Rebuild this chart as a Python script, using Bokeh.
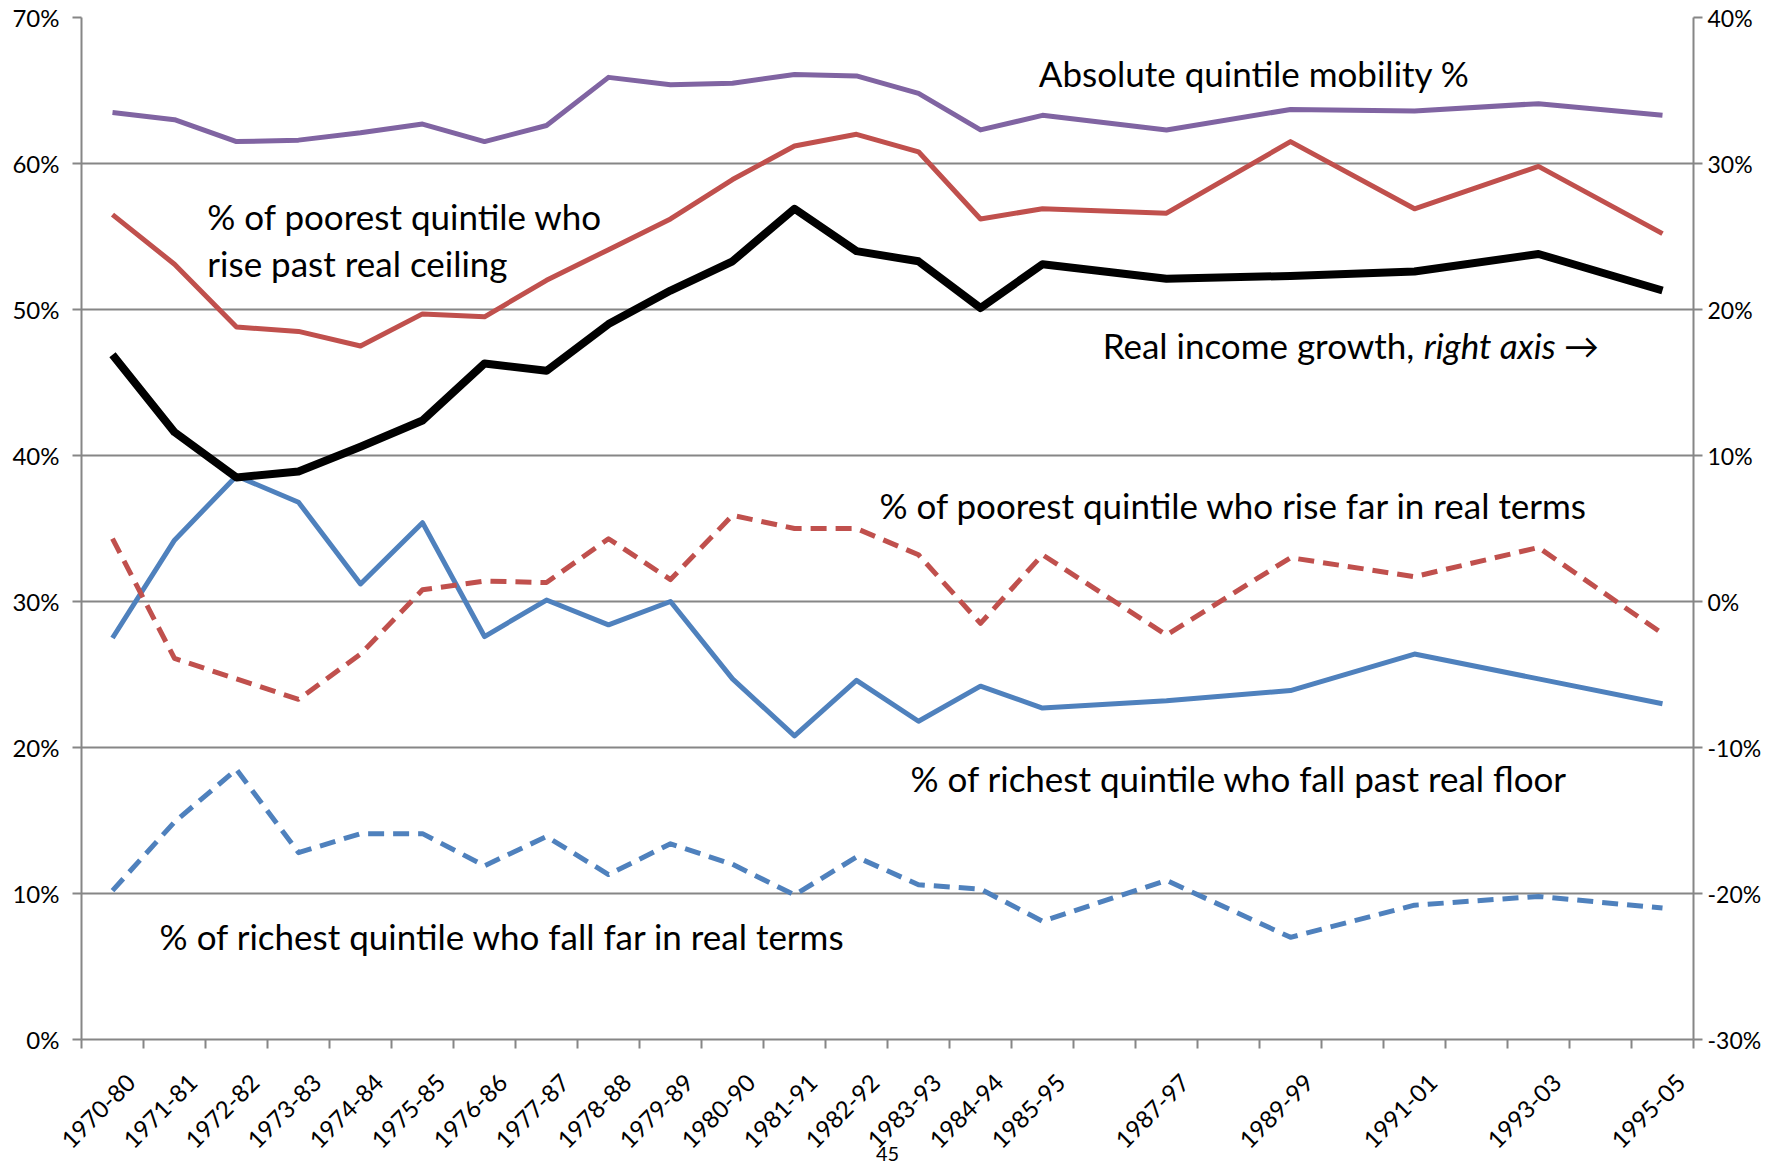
import math
from bokeh.plotting import figure
from bokeh.models import (Range1d, LinearAxis, FixedTicker, PrintfTickFormatter, Label,
                          CustomJSTickFormatter)
from bokeh.embed import file_html
from bokeh.resources import INLINE

# ---- data ----
years = [1970, 1971, 1972, 1973, 1974, 1975, 1976, 1977, 1978, 1979, 1980,
         1981, 1982, 1983, 1984, 1985, 1987, 1989, 1991, 1993, 1995]
period_labels = ["1970-80", "1971-81", "1972-82", "1973-83", "1974-84", "1975-85",
                 "1976-86", "1977-87", "1978-88", "1979-89", "1980-90", "1981-91",
                 "1982-92", "1983-93", "1984-94", "1985-95", "1987-97", "1989-99",
                 "1991-01", "1993-03", "1995-05"]
category_bounds = [1969.5 + k for k in range(27)]

absolute_mobility = [63.5, 63.0, 61.5, 61.6, 62.1, 62.7, 61.5, 62.6, 65.9, 65.4, 65.5,
                     66.1, 66.0, 64.8, 62.3, 63.3, 62.3, 63.7, 63.6, 64.1, 63.3]
poor_rise_past_ceiling = [56.5, 53.1, 48.8, 48.5, 47.5, 49.7, 49.5, 52.0, 54.1, 56.2, 58.9,
                          61.2, 62.0, 60.8, 56.2, 56.9, 56.6, 61.5, 56.9, 59.8, 55.2]
real_income_growth = [16.9, 11.6, 8.5, 8.9, 10.6, 12.4, 16.3, 15.8, 19.0, 21.3, 23.3,
                      26.9, 24.0, 23.3, 20.1, 23.1, 22.1, 22.3, 22.6, 23.8, 21.3]
rich_fall_past_floor = [27.5, 34.2, 38.6, 36.8, 31.2, 35.4, 27.6, 30.1, 28.4, 30.0, 24.7,
                        20.8, 24.6, 21.8, 24.2, 22.7, 23.2, 23.9, 26.4, 24.7, 23.0]
poor_rise_far = [34.3, 26.1, 24.7, 23.3, 26.4, 30.8, 31.4, 31.3, 34.3, 31.5, 35.9,
                 35.0, 35.0, 33.2, 28.5, 33.2, 27.7, 33.0, 31.7, 33.7, 27.8]
rich_fall_far = [10.2, 14.9, 18.5, 12.8, 14.1, 14.1, 11.9, 13.9, 11.3, 13.4, 12.0,
                 9.9, 12.5, 10.6, 10.3, 8.1, 10.9, 7.0, 9.2, 9.8, 9.0]

left_ticks = [0, 10, 20, 30, 40, 50, 60, 70]
right_ticks = [-30, -20, -10, 0, 10, 20, 30, 40]
page_number = "45"

PURPLE = "#8064A2"
RED = "#C0504D"
BLUE = "#4F81BD"
GRAY = "#868686"
FONT = "Lato"
LABEL_SHIFT = 0.3   # rotated labels sit a little right of the category centre

p = figure(width=1785, height=1164, output_backend="svg", toolbar_location=None,
           x_range=Range1d(1969.5, 1995.5), y_range=Range1d(0, 70),
           min_border_left=81, min_border_right=92, min_border_top=17, min_border_bottom=125)
p.outline_line_color = None
p.background_fill_color = "white"
p.border_fill_color = "white"

p.extra_y_ranges = {"right": Range1d(-30, 40)}

# x axis: tick marks at category boundaries, labels near category centres
xa = p.xaxis[0]
xa.ticker = FixedTicker(ticks=[y + LABEL_SHIFT for y in years], minor_ticks=category_bounds)
xa.formatter = CustomJSTickFormatter(
    args=dict(years=years, labels=period_labels, shift=LABEL_SHIFT),
    code="const i = years.indexOf(Math.round(tick - shift)); return i >= 0 ? labels[i] : '';")
xa.major_label_orientation = math.pi / 4
xa.major_tick_line_color = None
xa.major_tick_in = 0
xa.major_tick_out = 0
xa.minor_tick_line_color = GRAY
xa.minor_tick_line_width = 2
xa.minor_tick_in = 0
xa.minor_tick_out = 9
xa.axis_line_color = GRAY
xa.axis_line_width = 2
xa.major_label_text_font = FONT
xa.major_label_text_font_size = "24px"
xa.major_label_text_color = "black"
xa.major_label_standoff = 30
xa.axis_label = page_number
xa.axis_label_text_font = FONT
xa.axis_label_text_font_size = "20px"
xa.axis_label_text_font_style = "normal"
xa.axis_label_text_color = "black"
xa.axis_label_standoff = -12

# left axis
ya = p.yaxis[0]
ya.ticker = FixedTicker(ticks=left_ticks)
ya.formatter = PrintfTickFormatter(format="%d%%")
ya.axis_line_color = GRAY
ya.axis_line_width = 2
ya.major_tick_line_color = GRAY
ya.major_tick_line_width = 2
ya.major_tick_in = 0
ya.major_tick_out = 9
ya.minor_tick_line_color = None
ya.major_label_text_font = FONT
ya.major_label_text_font_size = "24px"
ya.major_label_text_color = "black"
ya.major_label_standoff = 13

# right axis
ra = LinearAxis(y_range_name="right", ticker=FixedTicker(ticks=right_ticks),
                formatter=PrintfTickFormatter(format="%d%%"))
ra.axis_line_color = GRAY
ra.axis_line_width = 2
ra.major_tick_line_color = GRAY
ra.major_tick_line_width = 2
ra.major_tick_in = 0
ra.major_tick_out = 9
ra.minor_tick_line_color = None
ra.major_label_text_font = FONT
ra.major_label_text_font_size = "23px"
ra.major_label_text_color = "black"
ra.major_label_standoff = 5
p.add_layout(ra, "right")

p.xgrid.grid_line_color = None
p.ygrid.ticker = FixedTicker(ticks=left_ticks)
p.ygrid.grid_line_color = GRAY
p.ygrid.grid_line_width = 2

# lines
p.line(years, absolute_mobility, line_color=PURPLE, line_width=5, line_join="round")
p.line(years, poor_rise_past_ceiling, line_color=RED, line_width=5, line_join="round")
p.line(years, rich_fall_past_floor, line_color=BLUE, line_width=5, line_join="round")
p.line(years, poor_rise_far, line_color=RED, line_width=5, line_dash="16 9", line_join="round")
p.line(years, rich_fall_far, line_color=BLUE, line_width=5, line_dash="16 9", line_join="round")
p.line(years, real_income_growth, y_range_name="right", line_color="black", line_width=8,
       line_join="round")

# annotations
def note(x, y, text, style="normal", size="35px"):
    p.add_layout(Label(x=x, y=y, text=text, text_font=FONT, text_font_size=size,
                       text_font_style=style, text_color="black",
                       text_baseline="middle", text_align="left"))

note(1984.94, 66.2, "Absolute quintile mobility %")
note(1971.53, 56.4, "% of poorest quintile who")
note(1971.53, 53.2, "rise past real ceiling")
note(1985.97, 47.6, "Real income growth,")
note(1991.15, 47.6, "right axis \u2192", style="italic")
note(1982.37, 36.6, "%  of poorest quintile who rise far in real terms")
note(1982.87, 17.9, "% of richest quintile who fall past real floor")
note(1970.76, 7.1, "% of richest quintile who fall far in real terms")

open("out.html", "w").write(file_html(p, INLINE))
